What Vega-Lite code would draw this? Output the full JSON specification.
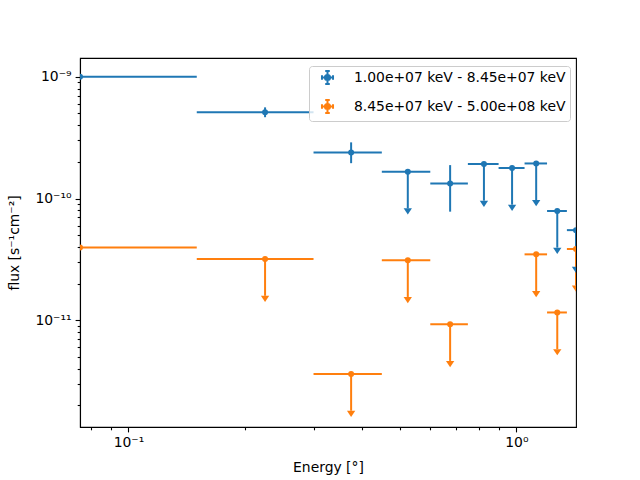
{
  "$schema": "https://vega.github.io/schema/vega-lite/v6.json",
  "width": 496,
  "height": 369,
  "autosize": {"type": "none"},
  "padding": {"left": 80, "top": 58, "right": 64, "bottom": 53},
  "background": "white",
  "config": {
    "view": {"stroke": "black", "strokeWidth": 1.1},
    "axis": {
      "labelFont": "DejaVu Sans",
      "labelFontSize": 13.9,
      "labelColor": "black",
      "titleFont": "DejaVu Sans",
      "titleFontSize": 13.9,
      "titleFontWeight": "normal",
      "titleColor": "black",
      "tickColor": "black",
      "tickWidth": 1.1,
      "domainColor": "black",
      "domainWidth": 1.1,
      "grid": false,
      "labelPadding": 4,
      "labelFlush": false,
      "labelOverlap": false
    }
  },
  "data": {
    "values": [
      {"band": "1.00e+07 keV - 8.45e+07 keV", "e": 0.075, "e_lo": 0.001, "e_hi": 0.15, "flux": 1.0e-9, "flux_lo": 0.97e-9, "flux_hi": 1.03e-9, "is_ul": false},
      {"band": "1.00e+07 keV - 8.45e+07 keV", "e": 0.225, "e_lo": 0.15, "e_hi": 0.3, "flux": 5.1e-10, "flux_lo": 4.65e-10, "flux_hi": 5.6e-10, "is_ul": false},
      {"band": "1.00e+07 keV - 8.45e+07 keV", "e": 0.375, "e_lo": 0.3, "e_hi": 0.45, "flux": 2.39e-10, "flux_lo": 1.95e-10, "flux_hi": 2.89e-10, "is_ul": false},
      {"band": "1.00e+07 keV - 8.45e+07 keV", "e": 0.525, "e_lo": 0.45, "e_hi": 0.6, "flux": 1.66e-10, "flux_lo": 8.3e-11, "flux_hi": 1.66e-10, "is_ul": true},
      {"band": "1.00e+07 keV - 8.45e+07 keV", "e": 0.675, "e_lo": 0.6, "e_hi": 0.75, "flux": 1.33e-10, "flux_lo": 7.8e-11, "flux_hi": 1.88e-10, "is_ul": false},
      {"band": "1.00e+07 keV - 8.45e+07 keV", "e": 0.825, "e_lo": 0.75, "e_hi": 0.9, "flux": 1.92e-10, "flux_lo": 9.6e-11, "flux_hi": 1.92e-10, "is_ul": true},
      {"band": "1.00e+07 keV - 8.45e+07 keV", "e": 0.975, "e_lo": 0.9, "e_hi": 1.05, "flux": 1.78e-10, "flux_lo": 8.9e-11, "flux_hi": 1.78e-10, "is_ul": true},
      {"band": "1.00e+07 keV - 8.45e+07 keV", "e": 1.125, "e_lo": 1.05, "e_hi": 1.2, "flux": 1.94e-10, "flux_lo": 9.7e-11, "flux_hi": 1.94e-10, "is_ul": true},
      {"band": "1.00e+07 keV - 8.45e+07 keV", "e": 1.275, "e_lo": 1.2, "e_hi": 1.35, "flux": 7.9e-11, "flux_lo": 3.95e-11, "flux_hi": 7.9e-11, "is_ul": true},
      {"band": "1.00e+07 keV - 8.45e+07 keV", "e": 1.425, "e_lo": 1.35, "e_hi": 1.5, "flux": 5.5e-11, "flux_lo": 2.75e-11, "flux_hi": 5.5e-11, "is_ul": true},
      {"band": "8.45e+07 keV - 5.00e+08 keV", "e": 0.075, "e_lo": 0.001, "e_hi": 0.15, "flux": 3.97e-11, "flux_lo": 3.9e-11, "flux_hi": 4.05e-11, "is_ul": false},
      {"band": "8.45e+07 keV - 5.00e+08 keV", "e": 0.225, "e_lo": 0.15, "e_hi": 0.3, "flux": 3.18e-11, "flux_lo": 1.59e-11, "flux_hi": 3.18e-11, "is_ul": true},
      {"band": "8.45e+07 keV - 5.00e+08 keV", "e": 0.375, "e_lo": 0.3, "e_hi": 0.45, "flux": 3.62e-12, "flux_lo": 1.81e-12, "flux_hi": 3.62e-12, "is_ul": true},
      {"band": "8.45e+07 keV - 5.00e+08 keV", "e": 0.525, "e_lo": 0.45, "e_hi": 0.6, "flux": 3.11e-11, "flux_lo": 1.555e-11, "flux_hi": 3.11e-11, "is_ul": true},
      {"band": "8.45e+07 keV - 5.00e+08 keV", "e": 0.675, "e_lo": 0.6, "e_hi": 0.75, "flux": 9.27e-12, "flux_lo": 4.64e-12, "flux_hi": 9.27e-12, "is_ul": true},
      {"band": "8.45e+07 keV - 5.00e+08 keV", "e": 1.125, "e_lo": 1.05, "e_hi": 1.2, "flux": 3.48e-11, "flux_lo": 1.74e-11, "flux_hi": 3.48e-11, "is_ul": true},
      {"band": "8.45e+07 keV - 5.00e+08 keV", "e": 1.275, "e_lo": 1.2, "e_hi": 1.35, "flux": 1.16e-11, "flux_lo": 5.8e-12, "flux_hi": 1.16e-11, "is_ul": true},
      {"band": "8.45e+07 keV - 5.00e+08 keV", "e": 1.425, "e_lo": 1.35, "e_hi": 1.5, "flux": 3.85e-11, "flux_lo": 1.93e-11, "flux_hi": 3.85e-11, "is_ul": true}
    ]
  },
  "encoding": {
    "color": {
      "field": "band",
      "type": "nominal",
      "scale": {"domain": ["1.00e+07 keV - 8.45e+07 keV", "8.45e+07 keV - 5.00e+08 keV"], "range": ["#1f77b4", "#ff7f0e"]},
      "legend": {
        "title": null,
        "orient": "none",
        "legendX": 229,
        "legendY": 8,
        "padding": 4,
        "symbolOffset": 7,
        "strokeColor": "#cccccc",
        "fillColor": "rgba(255,255,255,0.8)",
        "cornerRadius": 3,
        "labelFont": "DejaVu Sans",
        "labelFontSize": 13.9,
        "labelColor": "black",
        "labelLimit": 0,
        "labelOffset": 19,
        "rowPadding": 8,
        "symbolType": "M-0.85,0H0.85M-0.85,-0.35V0.35M0.85,-0.35V0.35M0,-1V1M-0.35,-1H0.35M-0.35,1H0.35M-0.4,0A0.4,0.4 0 1,0 0.4,0A0.4,0.4 0 1,0 -0.4,0Z",
        "symbolSize": 169,
        "symbolStrokeWidth": 2,
        "encode": {
          "symbols": {
            "update": {
              "stroke": {"scale": "color", "field": "value"},
              "fill": {"scale": "color", "field": "value"},
              "opacity": {"value": 1}
            }
          }
        }
      }
    }
  },
  "layer": [
    {
      "mark": {"type": "rule", "strokeWidth": 2, "clip": true},
      "encoding": {
        "x": {
          "field": "e_lo", "type": "quantitative",
          "scale": {"type": "log", "domain": [0.075, 1.425], "nice": false},
          "axis": {
            "title": "Energy [°]",
            "values": [0.08, 0.09, 0.1, 0.2, 0.3, 0.4, 0.5, 0.6, 0.7, 0.8, 0.9, 1],
            "labelExpr": "datum.value == 0.1 ? '10⁻¹' : datum.value == 1 ? '10⁰' : ''",
            "tickSize": {"condition": {"test": "datum.value == 0.1 || datum.value == 1", "value": 4.9}, "value": 2.8},
            "titlePadding": 11
          }
        },
        "x2": {"field": "e_hi"},
        "y": {
          "field": "flux", "type": "quantitative",
          "scale": {"type": "log", "domain": [1.331e-12, 1.424e-9], "nice": false},
          "axis": {
            "title": "flux [s⁻¹cm⁻²]",
            "values": [2e-12, 3e-12, 4e-12, 5e-12, 6e-12, 7e-12, 8e-12, 9e-12, 1e-11, 2e-11, 3e-11, 4e-11, 5e-11, 6e-11, 7e-11, 8e-11, 9e-11, 1e-10, 2e-10, 3e-10, 4e-10, 5e-10, 6e-10, 7e-10, 8e-10, 9e-10, 1e-9],
            "labelExpr": "datum.value == 1e-9 ? '10⁻⁹' : datum.value == 1e-10 ? '10⁻¹⁰' : datum.value == 1e-11 ? '10⁻¹¹' : ''",
            "tickSize": {"condition": {"test": "datum.value == 1e-9 || datum.value == 1e-10 || datum.value == 1e-11", "value": 4.9}, "value": 2.8},
            "titlePadding": 13
          }
        }
      }
    },
    {
      "mark": {"type": "rule", "strokeWidth": 2, "clip": true},
      "encoding": {
        "x": {"field": "e", "type": "quantitative"},
        "y": {"field": "flux_lo", "type": "quantitative"},
        "y2": {"field": "flux_hi"}
      }
    },
    {
      "transform": [{"filter": "datum.is_ul"}],
      "mark": {"type": "point", "filled": true, "opacity": 1, "clip": true, "shape": "M-1,0L1,0L0,1.5Z", "size": 69},
      "encoding": {
        "x": {"field": "e", "type": "quantitative"},
        "y": {"field": "flux_lo", "type": "quantitative"}
      }
    },
    {
      "mark": {"type": "point", "filled": true, "opacity": 1, "clip": true, "shape": "circle", "size": 36},
      "encoding": {
        "x": {"field": "e", "type": "quantitative"},
        "y": {"field": "flux", "type": "quantitative"}
      }
    }
  ]
}
